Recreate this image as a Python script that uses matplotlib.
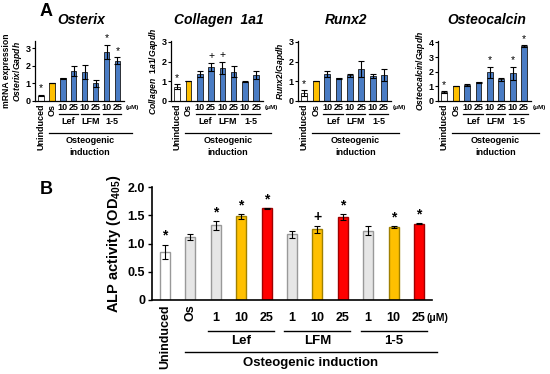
import numpy as np
import matplotlib
matplotlib.use("Agg")
import matplotlib.pyplot as plt

plt.rcParams['font.family'] = ['Liberation Sans', 'DejaVu Sans']
plt.rcParams['font.weight'] = 'bold'
plt.rcParams['mathtext.fontset'] = 'custom'
plt.rcParams['mathtext.rm'] = 'Liberation Sans:bold'
plt.rcParams['mathtext.bf'] = 'Liberation Sans:bold'
plt.rcParams['mathtext.it'] = 'Liberation Sans:italic:bold'

# ---- panel A data ----
a_labels = ["Uninduced", "Os", "10", "25", "10", "25", "10", "25"]
a_groups = ["Lef", "LFM", "1-5"]

osterix = [0.30, 1.00, 1.30, 1.72, 1.62, 1.00, 2.80, 2.28]
osterix_err = [0.03, 0.0, 0.03, 0.28, 0.40, 0.20, 0.40, 0.20]
osterix_sig = ["*", "", "", "", "", "", "*", "*"]

collagen = [0.72, 1.00, 1.38, 1.72, 1.68, 1.48, 0.98, 1.32]
collagen_err = [0.12, 0.0, 0.14, 0.22, 0.32, 0.28, 0.02, 0.22]
collagen_sig = ["*", "", "", "+", "+", "", "", ""]

runx2 = [0.40, 1.00, 1.37, 1.15, 1.30, 1.62, 1.27, 1.32]
runx2_err = [0.14, 0.0, 0.13, 0.02, 0.07, 0.42, 0.12, 0.32]
runx2_sig = ["*", "", "", "", "", "", "", ""]

osteocalcin = [0.60, 1.00, 1.10, 1.28, 1.97, 1.48, 1.90, 3.75]
osteocalcin_err = [0.05, 0.0, 0.05, 0.03, 0.38, 0.12, 0.45, 0.05]
osteocalcin_sig = ["*", "", "", "", "*", "", "*", "*"]

# ---- panel B data ----
b_labels = ["Uninduced", "Os", "1", "10", "25", "1", "10", "25", "1", "10", "25"]
alp = [0.85, 1.12, 1.32, 1.48, 1.62, 1.16, 1.25, 1.47, 1.23, 1.29, 1.35]
alp_err = [0.13, 0.05, 0.08, 0.04, 0.01, 0.07, 0.06, 0.05, 0.08, 0.02, 0.01]
alp_sig = ["*", "", "*", "*", "*", "", "+", "*", "", "*", "*"]

W, H = 550, 374
fig = plt.figure(figsize=(W / 100, H / 100), dpi=100)


def px_axes(left, top, right, bottom):
    return fig.add_axes([left / W, 1 - bottom / H, (right - left) / W, (bottom - top) / H])


blue = "#4a7cc4"
gold = "#ffc000"

panels = [
    ("Osterix", osterix, osterix_err, osterix_sig, 3.4, [0, 1, 2, 3], (35, 124), "mRNA expression\n$\\it{Osterix/Gapdh}$"),
    ("Collagen  1a1", collagen, collagen_err, collagen_sig, 3.05, [0, 1, 2, 3], (171, 263), "$\\it{Collagen\\ \\ 1a1/Gapdh}$"),
    ("Runx2", runx2, runx2_err, runx2_sig, 3.05, [0, 1, 2, 3], (298, 391), "$\\it{Runx2/Gapdh}$"),
    ("Osteocalcin", osteocalcin, osteocalcin_err, osteocalcin_sig, 4.1, [0, 1, 2, 3, 4], (438, 531), "$\\it{Osteocalcin/Gapdh}$"),
]

for title, vals, errs, sig, ytop, yt, (l, r), ylab in panels:
    ax = px_axes(l, 41, r, 101)
    x = np.arange(len(vals))
    cols = ["white", gold] + [blue] * 6
    ax.bar(x, vals, width=0.5, color=cols, edgecolor="#1a1a1a", linewidth=0.6)
    ax.errorbar(x, vals, yerr=errs, fmt="none", ecolor="black", elinewidth=0.8, capsize=2, capthick=0.8)
    for xi, v, e, s in zip(x, vals, errs, sig):
        if s:
            ax.text(xi, v + e + 0.08 * ytop / 3, s, ha="center", va="bottom", fontsize=7.5, fontweight="normal")
    ax.set_ylim(0, ytop)
    ax.set_xlim(-0.55, 7.6)
    ax.set_yticks(yt)
    ax.tick_params(axis="y", labelsize=6.5, length=2, width=0.8, pad=1)
    ax.set_xticks([])
    for sp in ["top", "right"]:
        ax.spines[sp].set_visible(False)
    ax.spines["left"].set_linewidth(0.9)
    ax.spines["bottom"].set_linewidth(0.9)
    ax.set_title(title, fontsize=10, fontstyle="italic", fontweight="bold", pad=12, x=0.52)
    ax.set_ylabel(ylab, fontsize=6.2, fontweight="bold", labelpad=1.5, linespacing=1.0)
    tr = ax.get_xaxis_transform()
    ax.text(0, -0.05, a_labels[0], rotation=90, ha="center", va="top", fontsize=6.5, transform=tr)
    ax.text(1, -0.05, a_labels[1], rotation=90, ha="center", va="top", fontsize=6.5, transform=tr)
    for xi in range(2, 8):
        ax.text(xi, -0.1, a_labels[xi], ha="center", va="center", fontsize=6.5, transform=tr)
    ax.text(7.75, -0.1, "(μM)", ha="left", va="center", fontsize=4.5, transform=tr)
    for gi, g in enumerate(a_groups):
        c = 2.5 + 2 * gi
        ax.plot([c - 0.85, c + 0.85], [-0.22, -0.22], color="black", lw=0.9, transform=tr, clip_on=False)
        ax.text(c, -0.34, g, ha="center", va="center", fontsize=6.5, transform=tr)
    ax.plot([0.7, 8.3], [-0.53, -0.53], color="black", lw=0.9, transform=tr, clip_on=False)
    ax.text(4.5, -0.66, "Osteogenic", ha="center", va="center", fontsize=6.5, transform=tr)
    ax.text(4.5, -0.86, "induction", ha="center", va="center", fontsize=6.5, transform=tr)

fig.text(40 / W, 1 - 12 / H, "A", fontsize=13, fontweight="bold", ha="left", va="center")
fig.text(40 / W, 1 - 190 / H, "B", fontsize=13, fontweight="bold", ha="left", va="center")

# ---- panel B ----
ax = px_axes(152, 187, 432, 300)
xb = np.arange(len(alp))
bcols = ["white", "#e6e6e6"] + ["#e6e6e6", gold, "#ff0000"] * 3
becols = ["#999999", "#999999"] + ["#999999", "#a08000", "#a00000"] * 3
ax.bar(xb, alp, width=0.4, color=bcols, edgecolor=becols, linewidth=1.0)
ax.errorbar(xb, alp, yerr=alp_err, fmt="none", ecolor="black", elinewidth=0.8, capsize=2.5, capthick=0.8)
for xi, v, e, s in zip(xb, alp, alp_err, alp_sig):
    if s:
        ax.text(xi, v + e + 0.03, s, ha="center", va="bottom", fontsize=10)
ax.set_ylim(0, 2.0)
ax.set_xlim(-0.51, 10.51)
ax.set_yticks([0, 0.5, 1.0, 1.5, 2.0])
ax.set_yticklabels(["0", "0.5", "1.0", "1.5", "2.0"])
ax.tick_params(axis="y", labelsize=9, length=3, width=1, pad=2)
ax.set_xticks([])
for sp in ["top", "right"]:
    ax.spines[sp].set_visible(False)
ax.spines["left"].set_linewidth(1.2)
ax.spines["bottom"].set_linewidth(1.2)
ax.set_ylabel("ALP activity (OD$_{405}$)", fontsize=10.5, fontweight="bold", labelpad=3)
tr = ax.get_xaxis_transform()
ax.text(0, -0.04, b_labels[0], rotation=90, ha="center", va="top", fontsize=9, transform=tr)
ax.text(1, -0.04, b_labels[1], rotation=90, ha="center", va="top", fontsize=9, transform=tr)
for xi in range(2, 11):
    ax.text(xi, -0.16, b_labels[xi], ha="center", va="center", fontsize=9, transform=tr)
ax.text(10.3, -0.16, "(μM)", ha="left", va="center", fontsize=7.5, transform=tr)
for gi, g in enumerate(a_groups):
    c = 3 + 3 * gi
    ax.plot([c - 1.3, c + 1.3], [-0.274, -0.274], color="black", lw=1.0, transform=tr, clip_on=False)
    ax.text(c, -0.365, g, ha="center", va="center", fontsize=9.5, transform=tr)
ax.plot([0.8, 10.7], [-0.46, -0.46], color="black", lw=1.0, transform=tr, clip_on=False)
ax.text(5.75, -0.555, "Osteogenic induction", ha="center", va="center", fontsize=9.5, transform=tr)

fig.savefig("out.png", dpi=100)
